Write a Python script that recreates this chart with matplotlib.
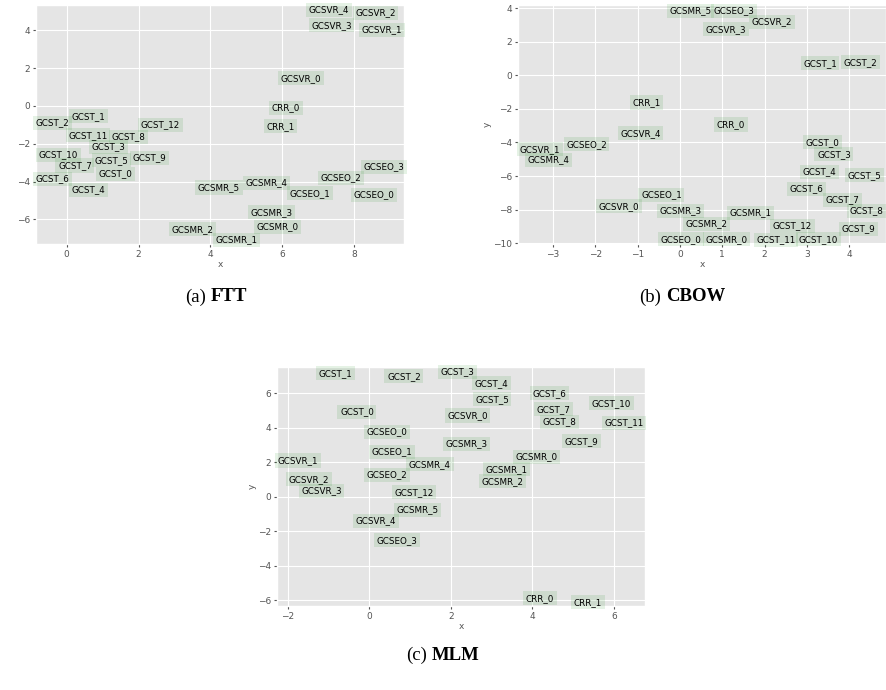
import matplotlib
matplotlib.use("Agg")
import matplotlib.pyplot as plt

# label positions
ftt_labels = ["GCST_2", "GCST_1", "GCST_12", "GCST_11", "GCST_8", "GCST_3", "GCST_10",
              "GCST_7", "GCST_5", "GCST_9", "GCST_0", "GCST_6", "GCST_4", "GCSMR_2",
              "GCSVR_4", "GCSVR_2", "GCSVR_3", "GCSVR_1", "GCSVR_0", "CRR_0", "CRR_1",
              "GCSEO_3", "GCSEO_2", "GCSMR_4", "GCSMR_5", "GCSEO_1", "GCSEO_0",
              "GCSMR_3", "GCSMR_0", "GCSMR_1"]
ftt_x = [-0.40, 0.60, 2.61, 0.59, 1.72, 1.16, -0.23, 0.23, 1.25, 2.30, 1.37, -0.39, 0.61,
         3.50, 7.30, 8.60, 7.37, 8.78, 6.53, 6.10, 5.95, 8.82, 7.63, 5.56, 4.24, 6.78,
         8.55, 5.70, 5.87, 4.72]
ftt_y = [-0.90, -0.55, -1.00, -1.55, -1.62, -2.15, -2.59, -3.15, -2.87, -2.75, -3.60,
         -3.86, -4.43, -6.53, 5.10, 4.92, 4.26, 4.04, 1.47, -0.10, -1.08, -3.23, -3.81,
         -4.05, -4.31, -4.62, -4.71, -5.63, -6.39, -7.09]

cbow_labels = ["CRR_1", "GCSVR_4", "GCSEO_2", "GCSVR_1", "GCSMR_4", "GCSVR_0", "GCSEO_1",
               "GCSMR_3", "GCSEO_0", "GCSMR_0", "GCSMR_2", "GCSMR_1", "GCST_12", "GCST_11",
               "GCST_10", "GCST_9", "GCST_8", "GCST_7", "GCST_6", "GCST_5", "GCST_4",
               "GCST_3", "GCST_0", "CRR_0", "GCSMR_5", "GCSEO_3", "GCSVR_2", "GCSVR_3",
               "GCST_1", "GCST_2"]
cbow_x = [-0.80, -0.93, -2.21, -3.31, -3.11, -1.44, -0.44, 0.01, 0.02, 1.10, 0.63, 1.67,
          2.66, 2.27, 3.27, 4.22, 4.40, 3.84, 2.99, 4.37, 3.30, 3.64, 3.36, 1.21, 0.24,
          1.27, 2.17, 1.08, 3.31, 4.26]
cbow_y = [-1.62, -3.45, -4.10, -4.40, -5.02, -7.80, -7.13, -8.07, -9.75, -9.75, -8.83,
          -8.17, -8.96, -9.79, -9.76, -9.14, -8.07, -7.42, -6.76, -5.96, -5.74, -4.70,
          -3.98, -2.93, 3.84, 3.84, 3.19, 2.74, 0.71, 0.78]

mlm_labels = ["GCST_1", "GCST_2", "GCST_0", "GCSEO_0", "GCSEO_1", "GCSVR_1", "GCSMR_4",
              "GCSEO_2", "GCSVR_2", "GCSVR_3", "GCST_12", "GCSMR_5", "GCSVR_4", "GCSEO_3",
              "GCST_3", "GCST_4", "GCST_5", "GCSVR_0", "GCST_6", "GCST_7", "GCST_8",
              "GCST_10", "GCST_11", "GCST_9", "GCSMR_3", "GCSMR_0", "GCSMR_1", "GCSMR_2",
              "CRR_0", "CRR_1"]
mlm_x = [-0.83, 0.85, -0.30, 0.43, 0.56, -1.74, 1.49, 0.44, -1.47, -1.17, 1.10, 1.19,
         0.17, 0.67, 2.17, 2.99, 3.01, 2.41, 4.41, 4.52, 4.67, 5.94, 6.24, 5.20, 2.39,
         4.11, 3.37, 3.26, 4.19, 5.36]
mlm_y = [7.17, 6.99, 4.94, 3.78, 2.62, 2.11, 1.90, 1.27, 1.03, 0.35, 0.26, -0.74, -1.39,
         -2.52, 7.24, 6.59, 5.66, 4.72, 6.00, 5.07, 4.36, 5.43, 4.31, 3.23, 3.08, 2.33,
         1.61, 0.91, -5.88, -6.10]

plt.style.use("ggplot")
W, H = 886, 690
fig = plt.figure(figsize=(W / 100, H / 100), dpi=100)


def panel(box, labels, xs, ys, xlim, ylim, ylabel=True):
    l, t, r, b = box
    ax = fig.add_axes([l / W, 1 - b / H, (r - l) / W, (b - t) / H])
    for lab, x, y in zip(labels, xs, ys):
        ax.text(x, y, lab, fontsize=6.3, ha="center", va="center",
                bbox=dict(facecolor="green", alpha=0.1, edgecolor="none", pad=1.8))
    ax.set_xlim(*xlim)
    ax.set_ylim(*ylim)
    ax.set_xlabel("x", fontsize=6.5, labelpad=1)
    if ylabel:
        ax.set_ylabel("y", fontsize=6.5, labelpad=1)
    ax.tick_params(labelsize=6.5, length=2, pad=2)
    return ax


# the y label of the first panel falls outside the cropped picture
panel((36, 5, 404, 244), ftt_labels, ftt_x, ftt_y, (-0.855, 9.39), (-7.3, 5.34), ylabel=False)
panel((518, 5, 886, 244), cbow_labels, cbow_x, cbow_y, (-3.83, 4.87), (-10.04, 4.18))
panel((277, 367, 645, 606), mlm_labels, mlm_x, mlm_y, (-2.26, 6.76), (-6.32, 7.53))

# captions: "(a)" normal + name bold, centred as one string
serif = "Liberation Serif"
captions = [(216, 297, "(a)", "FTT"), (682, 297, "(b)", "CBOW"), (443, 655, "(c)", "MLM")]
renderer = fig.canvas.get_renderer()
for cx, cy, tag, name in captions:
    t1 = fig.text(0, 1 - cy / H, tag, family=serif, fontsize=13.5, ha="left", va="center")
    t2 = fig.text(0, 1 - cy / H, name, family=serif, fontsize=13.5, weight="bold",
                  ha="left", va="center")
    w1 = t1.get_window_extent(renderer).width
    w2 = t2.get_window_extent(renderer).width
    gap = 5
    x0 = cx - (w1 + gap + w2) / 2
    t1.set_x(x0 / W)
    t2.set_x((x0 + w1 + gap) / W)

fig.savefig("out.png", dpi=100)
